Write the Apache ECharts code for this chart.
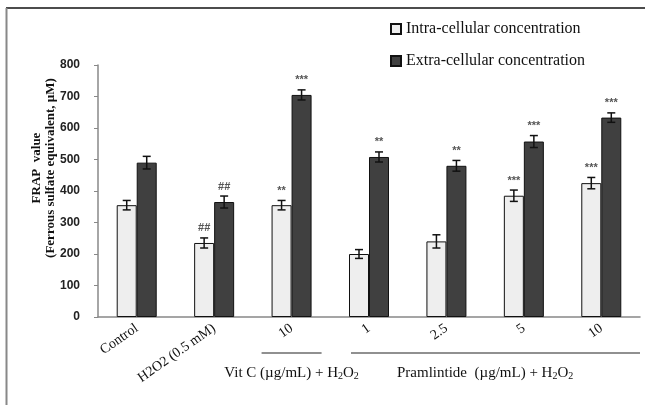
<!DOCTYPE html>
<html>
<head>
<meta charset="utf-8">
<script src="https://cdn.jsdelivr.net/npm/echarts@6/dist/echarts.min.js"></script>
<style>
  html, body { margin: 0; padding: 0; background: #fff; }
  #chart { width: 645px; height: 405px; }
</style>
</head>
<body>
<div id="chart"></div>
<script>
// categories on the x axis
const categories = ['Control', 'H2O2 (0.5 mM)', '10', '1', '2.5', '5', '10'];
// intra-cellular FRAP values and SEM
const intraValues = [355, 235, 355, 200, 240, 385, 425];
const intraErrors = [15, 16, 15, 14, 21, 18, 18];
const intraMarks = ['', '##', '**', '', '', '***', '***'];
// extra-cellular FRAP values and SEM
const extraValues = [490, 365, 705, 508, 480, 557, 633];
const extraErrors = [20, 19, 16, 16, 17, 19, 15];
const extraMarks = ['', '##', '***', '**', '**', '***', '***'];
// y axis ticks
const yMin = 0, yMax = 800, yStep = 100;

const serif = '"Liberation Serif", "Times New Roman", serif';
const BAR_W = 20;

const chart = echarts.init(document.getElementById('chart'));

function errorSeries(values, errors, marks, offset) {
    return {
        type: 'custom',
        z: 5,
        silent: true,
        data: values.map((v, i) => [i, v, errors[i], marks[i]]),
        renderItem: function (params, api) {
            const i = api.value(0);
            const v = api.value(1);
            const e = api.value(2);
            const top = api.coord([i, v + e]);
            const bot = api.coord([i, v - e]);
            const x = top[0] + offset;
            const cap = 4;
            const st = { stroke: '#111', lineWidth: 1.5 };
            const mark = marks[params.dataIndex];
            return {
                type: 'group',
                children: [
                    { type: 'line', shape: { x1: x, y1: top[1], x2: x, y2: bot[1] }, style: st },
                    { type: 'line', shape: { x1: x - cap, y1: top[1], x2: x + cap, y2: top[1] }, style: st },
                    { type: 'line', shape: { x1: x - cap, y1: bot[1], x2: x + cap, y2: bot[1] }, style: st },
                    {
                        type: 'text',
                        style: {
                            text: mark, x: x, y: top[1] - 4,
                            align: 'center', verticalAlign: 'bottom',
                            fill: '#555', font: 'bold 11px Arial, sans-serif'
                        }
                    }
                ]
            };
        }
    };
}

chart.setOption({
    animation: false,
    grid: { left: 98, right: 5, top: 65, bottom: 88 },
    legend: {
        data: ['Intra-cellular concentration', 'Extra-cellular concentration'],
        orient: 'vertical',
        left: 385,
        top: 16,
        icon: 'rect',
        itemWidth: 10,
        itemHeight: 10,
        itemGap: 16,
        textStyle: { fontFamily: serif, fontSize: 16, color: '#111' }
    },
    xAxis: {
        type: 'category',
        data: categories,
        axisLine: { lineStyle: { color: '#888', width: 1.5 } },
        axisTick: { show: false },
        axisLabel: {
            rotate: 35,
            interval: 0,
            margin: 10,
            fontFamily: serif,
            fontSize: 14,
            color: '#111'
        }
    },
    yAxis: {
        type: 'value',
        min: yMin,
        max: yMax,
        interval: yStep,
        splitLine: { show: false },
        axisLine: { show: true, lineStyle: { color: '#888', width: 1.5 } },
        axisTick: { show: true, length: 4, lineStyle: { color: '#888' } },
        axisLabel: {
            margin: 18,
            fontFamily: 'Arial, "Liberation Sans", sans-serif',
            fontWeight: 'bold',
            fontSize: 12,
            color: '#222'
        }
    },
    series: [
        {
            name: 'Intra-cellular concentration',
            type: 'bar',
            data: intraValues,
            barWidth: BAR_W,
            barGap: '0%',
            itemStyle: { color: '#eeeeee', borderColor: '#111', borderWidth: 1 }
        },
        {
            name: 'Extra-cellular concentration',
            type: 'bar',
            data: extraValues,
            barWidth: BAR_W,
            barGap: '0%',
            itemStyle: { color: '#404040', borderColor: '#111', borderWidth: 1 }
        },
        errorSeries(intraValues, intraErrors, intraMarks, -BAR_W / 2),
        errorSeries(extraValues, extraErrors, extraMarks, BAR_W / 2)
    ]
});

// group brackets under the dose labels
const c2 = chart.convertToPixel({ xAxisIndex: 0 }, 2);
const c3 = chart.convertToPixel({ xAxisIndex: 0 }, 3);
const c4 = chart.convertToPixel({ xAxisIndex: 0 }, 4);
const c5 = chart.convertToPixel({ xAxisIndex: 0 }, 5);
const lineY = 353;
const labelY = 373;
const rich = {
    t: { fontFamily: serif, fontSize: 15, fill: '#111' },
    s: { fontFamily: serif, fontSize: 10, fill: '#111', padding: [7, 0, 0, 0] }
};

chart.setOption({
    graphic: [
        // frame
        { type: 'line', shape: { x1: 6, y1: 8, x2: 645, y2: 8 }, style: { stroke: '#111', lineWidth: 1.5 } },
        { type: 'line', shape: { x1: 6.5, y1: 8, x2: 6.5, y2: 405 }, style: { stroke: '#888', lineWidth: 2 } },
        // y axis title
        {
            type: 'text',
            x: 44, y: 168,
            rotation: Math.PI / 2,
            style: {
                text: 'FRAP  value\n(Ferrous sulfate equivalent, µM)',
                align: 'center', verticalAlign: 'middle',
                font: 'bold 13px ' + serif,
                lineHeight: 14,
                fill: '#111'
            }
        },
        // Vit C bracket
        { type: 'line', shape: { x1: c2 - 30, y1: lineY, x2: c2 + 30, y2: lineY }, style: { stroke: '#222', lineWidth: 1.2 } },
        {
            type: 'text', x: c2, y: labelY,
            style: {
                text: '{t|Vit C (µg/mL) + H}{s|2}{t|O}{s|2}',
                rich: rich, align: 'center', verticalAlign: 'middle'
            }
        },
        // Pramlintide bracket
        { type: 'line', shape: { x1: c3 - 18, y1: lineY, x2: 640, y2: lineY }, style: { stroke: '#222', lineWidth: 1.2 } },
        {
            type: 'text', x: (c4 + c5) / 2, y: labelY,
            style: {
                text: '{t|Pramlintide  (µg/mL) + H}{s|2}{t|O}{s|2}',
                rich: rich, align: 'center', verticalAlign: 'middle'
            }
        }
    ]
});
</script>
</body>
</html>
